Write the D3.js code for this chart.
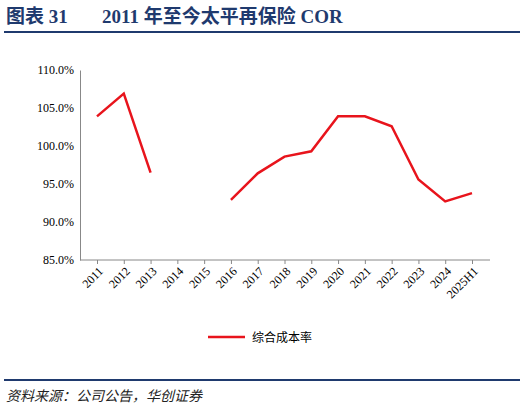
<!DOCTYPE html>
<html><head><meta charset="utf-8">
<script src="https://cdn.jsdelivr.net/npm/d3@7"></script>
<style>body{margin:0;background:#fff}</style></head>
<body><svg id="c" width="524" height="409"></svg>
<script>
const categories=["2011","2012","2013","2014","2015","2016","2017","2018","2019","2020","2021","2022","2023","2024","2025H1"];
const corValues=[103.9,106.9,96.5,null,null,92.9,96.4,98.6,99.3,103.9,103.9,102.6,95.6,92.7,93.8];
const yTicks=[85,90,95,100,105,110];
const svg=d3.select("#c");
const serif="'Times New Roman','Liberation Serif',serif";
const cjk="'Noto Sans CJK SC',sans-serif";
const blue="#1f3a6e";
const t=svg.append("text").attr("y",23).attr("fill",blue).attr("font-size",19).attr("font-weight","bold").attr("font-family",serif+","+cjk);
t.append("tspan").attr("x",6).text("图表 31");
t.append("tspan").attr("x",102).text("2011 年至今太平再保险 COR");
svg.append("line").attr("x1",4).attr("x2",520).attr("y1",32).attr("y2",32).attr("stroke",blue).attr("stroke-width",2);
svg.append("line").attr("x1",4).attr("x2",520).attr("y1",380).attr("y2",380).attr("stroke",blue).attr("stroke-width",2);
svg.append("text").attr("x",6).attr("y",401).attr("font-size",14).attr("font-style","italic").attr("fill","#222").attr("font-family",cjk).text("资料来源：公司公告，华创证券");
const x=d3.scalePoint().domain(categories).range([97,472]);
const y=d3.scaleLinear().domain([85,110]).range([260,70]);
const ya=svg.append("g").attr("transform","translate(80,0)").call(d3.axisLeft(y).tickValues(yTicks).tickFormat(d=>d.toFixed(1)+"%").tickSize(0).tickPadding(6));
ya.selectAll("text").attr("font-family",serif).attr("font-size",12).attr("fill","#000");
ya.select(".domain").attr("stroke","#888");
const xa=svg.append("g").attr("transform","translate(0,260)").call(d3.axisBottom(x).tickSize(4).tickSizeOuter(0));
xa.select(".domain").attr("stroke","#888").attr("d","M80,0H490");
xa.selectAll(".tick line").attr("stroke","#888");
xa.selectAll("text").attr("font-family",serif).attr("font-size",12).attr("fill","#000").attr("text-anchor","end").attr("transform","rotate(-45)").attr("dx","-4").attr("dy","6");
const line=d3.line().defined(d=>d[1]!=null).x(d=>x(d[0])).y(d=>y(d[1]));
svg.append("path").datum(categories.map((c,i)=>[c,corValues[i]])).attr("d",line).attr("fill","none").attr("stroke","#e8141c").attr("stroke-width",2.5);
svg.append("line").attr("x1",208).attr("x2",245).attr("y1",337).attr("y2",337).attr("stroke","#e8141c").attr("stroke-width",2.5);
svg.append("text").attr("x",252).attr("y",342).attr("font-size",12).attr("font-family",cjk).text("综合成本率");
</script></body></html>
